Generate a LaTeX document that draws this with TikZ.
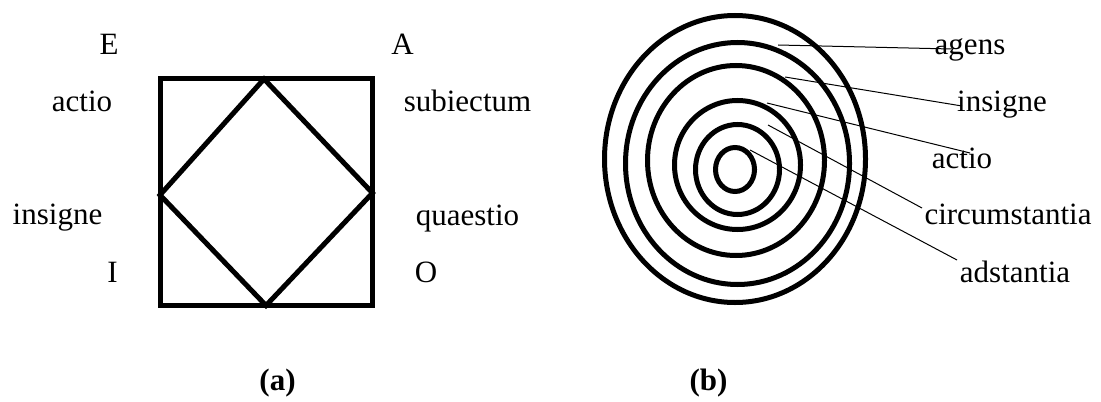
\documentclass[tikz,border=0pt]{standalone}
\usepackage{fontspec}
\setmainfont{Liberation Serif}
\begin{document}
\begin{tikzpicture}[x=0.5pt,y=-0.5pt,
  thickline/.style={line width=2.5pt},
  leader/.style={line width=0.5pt},
  lbl/.style={font=\fontsize{15.5}{18}\selectfont,inner sep=0pt,anchor=base},
  capt/.style={lbl,font=\fontsize{15.5}{18}\selectfont\bfseries}]
  \useasboundingbox (0,0) rectangle (1101,401);

  % ===== Parámetros =====
  \def\sqL{160}
  \def\sqR{372.5}
  \def\sqT{79}
  \def\sqB{305.5}
  \def\capY{390}

  % ===== (a) Cuadrado y rombo =====
  \draw[thickline] (\sqL,\sqT) rectangle (\sqR,\sqB);
  \coordinate (dTop)   at (264,\sqT);
  \coordinate (dRight) at (\sqR,193);
  \coordinate (dBot)   at (266,\sqB);
  \coordinate (dLeft)  at (\sqL,195);
  \draw[thickline] (dTop) -- (dRight) -- (dBot) -- (dLeft) -- cycle;

  \foreach \x/\y/\txt in {109/55/E, 402.5/55/A, 82/112/actio, 467.5/112/subiectum,
                          57.5/224/insigne, 467.5/225/quaestio, 112.5/282/I, 426/282/O}{
    \node[lbl] (a-\txt) at (\x,\y) {\txt};
  }
  \node[capt] (capA) at (277.5,\capY) {(a)};

  % ===== (b) Anillos =====
  \foreach \cx/\cy/\rx/\ry in {735/159/130.5/143.5, 737.5/163.5/112/121, 736/160.5/88.5/95,
                              737.5/165/63/64.5, 737.5/169.5/42/45, 735/169.5/19.5/22}{
    \draw[thickline] (\cx,\cy) ellipse [x radius=\rx, y radius=\ry];
  }

  % ===== (b) Etiquetas y guías =====
  \foreach \x/\y/\txt in {970/55/agens, 1002/112/insigne, 962/168/actio,
                          1008/224/circumstantia, 1015/282/adstantia}{
    \node[lbl] (b-\txt) at (\x,\y) {\txt};
  }
  \foreach \sx/\sy/\ex/\ey/\txt in {778/45/952/49/agens, 785/77/962/106/insigne,
                                    767/103/970/153/actio, 768/125/922/208/circumstantia,
                                    750/150/957/260/adstantia}{
    \coordinate (s-\txt) at (\sx,\sy);
    \coordinate (e-\txt) at (\ex,\ey);
    \draw[leader] (s-\txt) -- (e-\txt);
  }
  \node[capt] (capB) at (708.5,\capY) {(b)};

\end{tikzpicture}
\end{document}
